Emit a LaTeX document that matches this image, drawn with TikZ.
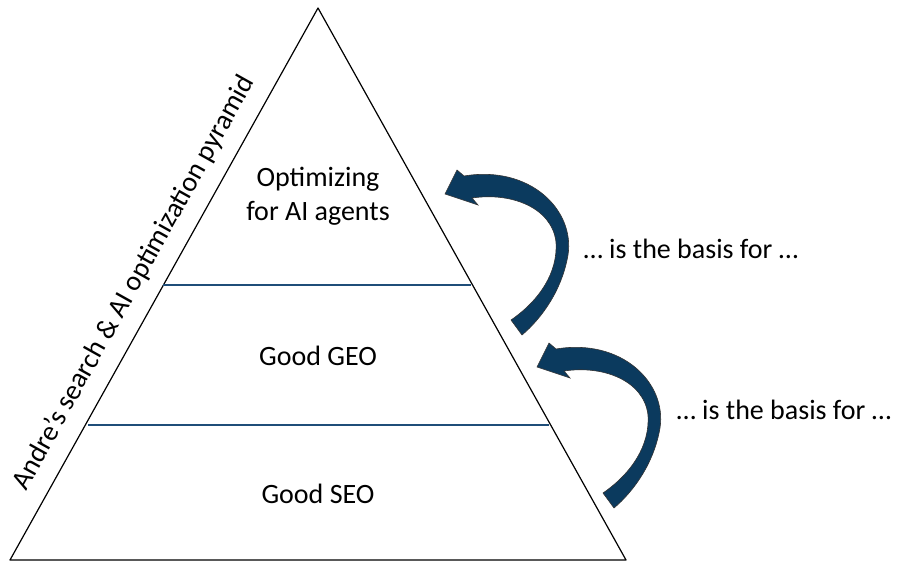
\documentclass[tikz,border=0pt]{standalone}
\usepackage{fontspec}
\setmainfont{Carlito}
\definecolor{navy}{HTML}{0B3A5E}
\definecolor{lineblue}{HTML}{1F4E79}
\begin{document}
\begin{tikzpicture}[x=1pt,y=-1pt,
  lbl/.style={font=\fontsize{28}{34}\selectfont, align=center},
  band/.style={draw=lineblue, line width=1.2pt},
  barrow/.style={fill=navy, draw=black!80, line width=0.6pt}]
\useasboundingbox (0,0) rectangle (899,569);
\coordinate (A) at (318,8);
\coordinate (L) at (10,560);
\coordinate (R) at (626,560);
\draw[line width=1.2pt, line join=round] (A) -- (L) -- (R) -- cycle;
\coordinate (l1) at (163,285); \coordinate (r1) at (471,285);
\coordinate (l2) at (88,425);  \coordinate (r2) at (549,425);
\draw[band] (l1) -- (r1);
\draw[band] (l2) -- (r2);
\node[lbl] (t) at (318,196) {Optimizing\\for AI agents};
\node[lbl] (g) at (318,356) {Good GEO};
\node[lbl] (s) at (318,494) {Good SEO};
\node[lbl, rotate=60.8] (p) at (134,283) {Andre’s search \& AI optimization pyramid};
\node[lbl, anchor=west] (b1) at (580,249) {… is the basis for …};
\node[lbl, anchor=west] (b2) at (673,410) {… is the basis for …};
\foreach \dx/\dy in {0/0, 92/173}{
\begin{scope}[shift={(\dx,\dy)}]
\path[barrow] (445,194) -- (457,170) -- (464,176)
  .. controls (530,165) and (575,210) .. (568,255)
  .. controls (562,290) and (542,318) .. (522,335)
  -- (511,320)
  .. controls (540,300) and (558,272) .. (556,242)
  .. controls (552,208) and (512,192) .. (472,198)
  -- (478,205) -- cycle;
\end{scope}}
\end{tikzpicture}
\end{document}
